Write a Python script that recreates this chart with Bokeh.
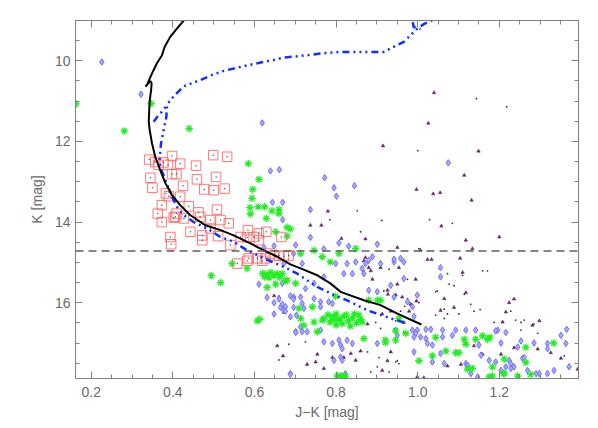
from bokeh.plotting import figure
from bokeh.models import Range1d, LinearAxis, SingleIntervalTicker, Span, NumeralTickFormatter
from bokeh.embed import file_html
from bokeh.resources import INLINE

# ---------------- data ----------------
# black isochrone (J-K, K)
iso_black_x = [1.009, 0.950, 0.909, 0.868, 0.811, 0.786, 0.754, 0.713, 0.688, 0.656, 0.623, 0.590, 0.549,
               0.517, 0.480, 0.443, 0.418, 0.398, 0.382, 0.369, 0.357, 0.349, 0.343, 0.341, 0.343, 0.347,
               0.348, 0.345, 0.340, 0.333, 0.338, 0.343, 0.349, 0.361, 0.3735, 0.380, 0.394, 0.410, 0.4265, 0.432]
iso_black_k = [16.54, 16.27, 16.06, 15.94, 15.73, 15.52, 15.32, 15.15, 15.05, 14.86, 14.70, 14.53, 14.33,
               14.20, 14.08, 13.83, 13.58, 13.33, 13.04, 12.71, 12.38, 12.05, 11.70, 11.51, 11.02, 10.70,
               10.55, 10.50, 10.56, 10.64, 10.57, 10.45, 10.31, 10.06, 9.86, 9.65, 9.40, 9.20, 9.00, 8.90]

# blue isochrone (dash-dot-dot-dot), three pieces
iso_blue_x = [
    [0.966, 0.934, 0.877, 0.827, 0.795, 0.754, 0.705, 0.680, 0.615, 0.582, 0.549, 0.517, 0.484, 0.451,
     0.427, 0.410, 0.394, 0.382, 0.369, 0.368, 0.371, 0.378, 0.384, 0.386, 0.402, 0.427, 0.467, 0.496,
     0.525, 0.566, 0.607, 0.647, 0.672, 0.713, 0.762, 0.811, 0.860, 0.917, 0.942, 0.966, 0.983, 0.999,
     1.015, 1.036, 1.045],
    [0.353, 0.365, 0.377, 0.386],
    [0.988, 0.990, 1.007],
]
iso_blue_k = [
    [16.49, 16.39, 16.19, 15.94, 15.81, 15.61, 15.28, 15.15, 14.86, 14.70, 14.49, 14.37, 14.16, 14.00,
     13.83, 13.62, 13.29, 12.96, 12.63, 12.38, 12.05, 11.70, 11.40, 11.08, 10.88, 10.63, 10.48, 10.35,
     10.25, 10.15, 10.06, 9.98, 9.92, 9.88, 9.82, 9.78, 9.78, 9.78, 9.65, 9.53, 9.36, 9.20,
     9.09, 8.99, 8.92],
    [11.51, 11.35, 11.22, 11.08],
    [9.04, 9.16, 9.21],
]

k_limit = 14.72

red_x = [0.342, 0.357, 0.377, 0.398, 0.418, 0.457, 0.499, 0.533, 0.345, 0.350, 0.398, 0.409, 0.425, 0.459,
         0.506, 0.477, 0.500, 0.527, 0.383, 0.390, 0.418, 0.439, 0.463, 0.508, 0.373, 0.363, 0.409, 0.373,
         0.406, 0.427, 0.467, 0.492, 0.517, 0.537, 0.443, 0.472, 0.472, 0.511, 0.492, 0.394, 0.396, 0.541,
         0.566, 0.584, 0.598, 0.611, 0.629, 0.582, 0.611, 0.558, 0.586, 0.607, 0.639, 0.647, 0.660, 0.672,
         0.684, 0.627, 0.582, 0.619, 0.666, 0.402, 0.365, 0.388]
red_k = [12.45, 12.51, 12.52, 12.36, 12.55, 12.60, 12.34, 12.38, 12.90, 13.15, 12.81, 12.81, 13.10, 12.94,
         12.88, 13.19, 13.21, 13.17, 13.29, 13.36, 13.37, 13.61, 13.76, 13.69, 13.58, 13.79, 13.79, 14.00,
         13.87, 13.91, 13.87, 13.95, 13.95, 14.03, 14.24, 14.33, 14.45, 14.35, 14.16, 14.37, 14.55, 14.57,
         14.37, 14.20, 14.37, 14.28, 14.24, 14.38, 14.45, 15.03, 14.90, 14.90, 14.78, 14.83, 14.83, 14.85,
         14.83, 14.90, 14.96, 14.96, 14.37, 13.89, 12.58, 12.58]

green_x = [0.163, 0.347, 0.281, 0.440, 0.585, 0.611, 0.596, 0.594, 0.589, 0.609, 0.625, 0.643, 0.660, 0.660,
           0.629, 0.688, 0.652, 0.680, 0.590, 0.680, 0.545, 0.582, 0.494, 0.517, 0.607, 0.613, 0.631, 0.652,
           0.676, 0.620, 0.630, 0.640, 0.648, 0.656, 0.625, 0.662, 0.636,
           0.780, 0.790, 0.800, 0.810, 0.820, 0.830, 0.840, 0.850, 0.785, 0.800, 0.815, 0.835, 0.805, 0.825,
           0.795, 0.845, 0.770, 0.860,
           0.713, 0.746, 0.766, 0.864, 0.799, 0.909, 0.868, 0.921, 0.946, 0.971, 0.754, 0.721, 0.811, 0.823,
           0.680, 0.701, 0.668, 0.713, 0.746, 0.766, 0.786, 0.807, 0.848, 0.901, 0.880, 0.709, 0.742, 0.954,
           0.856,
           1.003, 1.036, 1.044, 1.069, 1.093, 1.101, 1.114, 1.118, 1.142, 1.159, 1.171, 1.177, 1.183, 1.212,
           1.210, 1.245, 1.265, 1.265, 1.277, 1.333, 1.122, 0.803, 0.815, 0.921, 0.946, 1.134, 1.183, 1.175,
           1.212]
green_k = [11.07, 11.06, 11.74, 11.68, 12.55, 12.94, 13.19, 13.41, 13.64, 13.62, 13.62, 13.72, 13.69, 13.79,
           13.91, 14.17, 14.24, 14.35, 13.80, 14.13, 15.03, 15.15, 15.33, 15.50, 16.45, 16.41, 15.62, 15.54,
           15.46, 15.27, 15.30, 15.25, 15.33, 15.28, 15.36, 15.37, 15.38,
           16.30, 16.35, 16.28, 16.40, 16.33, 16.45, 16.38, 16.50, 16.48, 16.55, 16.52, 16.58, 16.42, 16.30,
           16.42, 16.28, 16.40, 16.42,
           16.39, 16.48, 16.43, 16.48, 15.84, 15.94, 16.89, 16.93, 16.93, 16.76, 16.72, 16.56, 17.82, 17.82,
           15.44, 15.52, 15.28, 14.78, 14.70, 14.86, 14.99, 14.78, 14.66, 15.94, 15.94, 16.14, 16.10, 16.39,
           16.31,
           17.44, 17.32, 16.86, 17.20, 17.24, 17.24, 16.91, 17.03, 16.91, 16.82, 16.91, 16.86, 17.82, 17.40,
           17.75, 17.82, 17.11, 17.48, 17.78, 17.00, 17.65, 17.82, 17.82, 16.99, 16.70, 17.63, 17.59, 17.84,
           17.76]

blue_x = [0.226, 0.322, 0.619, 0.639, 0.661, 0.644, 0.669, 0.772, 0.795, 0.801, 0.845, 1.075, 0.737, 0.669,
          0.737, 0.701, 0.672, 0.717, 0.696, 0.807, 0.831, 0.901, 0.880, 0.872, 0.864, 0.889, 0.848, 0.799,
          0.827, 0.819, 0.840, 0.868, 0.909, 0.942, 0.958, 0.966, 0.942, 0.934, 0.901, 0.880, 0.770, 0.746,
          0.725, 0.713, 0.696, 0.676, 0.688, 0.721, 0.762, 0.762, 0.713, 0.668, 0.975, 0.987, 0.999,
          0.672, 0.703, 0.717, 0.746, 0.762, 0.782, 0.791, 0.701, 0.717, 0.729, 0.770, 0.791, 0.807, 0.811,
          0.827, 0.815, 0.840, 0.811, 0.815, 0.795, 0.688, 0.823, 0.901, 0.950, 0.946,
          0.966, 0.991, 0.987, 0.999, 1.020, 1.032, 0.995, 0.991, 1.007, 1.020, 1.024, 1.036, 0.991, 1.056,
          1.056, 1.061, 1.061, 1.085, 1.093, 1.118, 1.142, 1.150, 1.056, 1.065, 1.036, 1.118, 1.122, 1.130,
          1.147, 1.155, 1.175, 1.196, 1.204, 1.224, 1.228, 1.236, 1.228, 1.216, 1.245, 1.257, 1.191, 1.204,
          1.285, 1.269, 1.298, 1.318, 1.318, 1.318, 1.351, 1.365, 1.363, 1.334, 1.290, 1.371, 1.191, 1.216,
          1.253, 1.261,
          0.623, 0.648, 0.611, 0.631, 0.648, 0.660, 0.664, 0.676, 0.648, 0.668, 0.688, 0.696, 0.696, 0.701,
          0.688, 0.770, 0.942]
blue_k = [10.03, 10.83, 11.54, 12.73, 12.70, 13.51, 13.51, 12.90, 13.15, 13.36, 13.10, 12.53, 13.69, 13.94,
          14.38, 14.57, 15.03, 15.03, 14.78, 14.52, 14.60, 14.55, 14.95, 15.03, 15.15, 14.86, 14.99, 15.03,
          15.03, 15.28, 15.28, 15.28, 15.03, 14.99, 14.90, 15.40, 15.86, 15.57, 15.73, 15.69, 15.36, 15.52,
          15.65, 15.86, 15.86, 16.10, 16.35, 16.14, 15.98, 16.68, 16.60, 15.52, 15.98, 16.10, 15.81,
          16.19, 16.31, 16.02, 15.90, 16.10, 15.98, 16.02, 16.72, 16.72, 16.72, 16.97, 17.01, 16.93, 17.05,
          16.93, 17.14, 17.01, 17.35, 17.43, 17.43, 17.76, 17.76, 17.01, 16.81, 16.68,
          14.99, 16.34, 16.68, 16.68, 16.66, 16.66, 16.76, 16.85, 16.85, 16.89, 17.01, 17.05, 17.22, 15.13,
          15.36, 16.68, 16.85, 16.81, 16.68, 16.68, 16.68, 17.05, 17.26, 17.51, 17.47, 17.51, 17.55, 17.76,
          17.84, 17.30, 17.43, 16.68, 17.00, 17.43, 17.51, 17.59, 17.63, 17.59, 17.10, 17.38, 17.47, 17.68,
          17.00, 17.68, 17.76, 17.76, 17.14, 17.01, 16.81, 16.66, 17.01, 17.68, 17.76, 17.59, 16.70, 16.74,
          16.95, 17.36,
          14.63, 14.59, 15.54, 15.87, 16.00, 15.91, 16.12, 16.21, 16.28, 16.04, 15.83, 15.91, 16.12, 16.74,
          17.78, 14.67, 14.92]

tri_x = [1.040, 1.026, 0.915, 1.149, 1.114, 0.997, 1.038, 1.055, 1.132, 0.780, 0.737, 0.764, 0.813, 0.872,
         1.058, 1.118, 1.200, 0.950, 1.134, 0.872, 0.868, 0.880, 0.885, 0.889, 0.909, 0.954, 0.995, 0.950,
         0.927, 0.983, 0.934, 0.979, 0.966, 0.913, 0.877, 1.118, 1.110, 1.089, 1.224, 1.236, 1.298,
         0.819, 0.860, 0.926, 0.754, 0.791, 0.729, 1.015, 1.138, 1.159, 1.236, 1.204, 1.326, 1.392, 1.294,
         1.106, 1.073, 0.648, 0.660, 0.668, 0.672, 0.656, 0.670, 1.024, 1.034, 1.104, 1.007, 1.065, 0.997,
         1.056, 1.216, 1.208, 1.281, 1.351, 0.999, 0.750, 0.770, 0.836, 0.848, 0.913, 0.934, 0.926, 0.946,
         0.962]
tri_k = [10.79, 11.55, 12.11, 12.24, 12.84, 13.19, 13.30, 13.27, 13.46, 13.73, 14.08, 14.08, 14.41, 14.42,
         14.10, 14.45, 14.37, 14.63, 14.66, 14.88, 14.96, 15.13, 15.21, 15.42, 15.13, 15.13, 15.42, 15.54,
         15.79, 16.04, 16.21, 16.21, 16.49, 16.28, 16.53, 15.75, 15.25, 16.12, 16.00, 15.91, 16.45,
         17.36, 17.20, 17.44, 17.28, 17.36, 17.53, 17.86, 17.07, 17.28, 17.12, 17.28, 17.24, 17.65, 17.15,
         17.53, 17.57, 15.83, 15.86, 16.04, 16.24, 17.07, 17.32, 14.93, 14.93, 14.90, 14.70, 15.90, 15.96,
         16.19, 16.23, 16.48, 16.56, 17.38, 17.84, 17.47, 17.63, 17.26, 17.43, 17.68, 17.22, 15.69, 15.81,
         15.86]

dot_x = [1.144, 1.218, 1.000, 0.852, 0.785, 0.912, 1.029, 0.860, 1.085, 1.003, 0.868, 0.930, 0.975, 0.917,
         1.003, 0.958, 0.946, 0.897, 1.048, 1.077, 1.089, 1.114, 1.130, 1.159, 1.171, 1.065, 1.073, 1.101,
         1.138, 1.187, 1.228, 1.253, 1.285, 0.905, 0.950, 1.359, 0.684, 0.660, 1.110, 1.073, 1.044, 1.153,
         0.968, 1.065, 1.240, 1.261, 1.044, 1.253, 1.294, 0.725, 0.877, 0.885, 0.901, 0.946, 0.954, 0.930,
         0.975, 0.909, 0.966]
dot_k = [10.94, 11.14, 12.23, 13.72, 13.94, 13.96, 13.94, 14.24, 14.03, 14.66, 15.21, 15.17, 15.42, 15.71,
         16.00, 16.21, 16.45, 16.49, 15.71, 15.54, 15.58, 15.79, 16.04, 15.21, 15.21, 16.16, 16.28, 16.28,
         16.21, 16.49, 16.21, 16.49, 16.53, 17.36, 17.44, 17.32, 17.03, 17.42, 15.32, 15.28, 15.73, 16.17,
         16.09, 16.39, 16.43, 16.43, 16.31, 16.68, 16.76, 16.97, 17.22, 17.72, 17.59, 17.47, 17.51, 17.72,
         15.90, 16.64, 16.72]

x_lo, x_hi = 0.1615, 1.394
k_bright, k_faint = 9.0, 17.88

# ---------------- figure ----------------
FONT = "Liberation Sans"
GRAY = "#6a6a6a"

p = figure(width=596, height=426, frame_width=503, frame_height=358,
           x_range=Range1d(x_lo, x_hi), y_range=Range1d(k_faint, k_bright),
           output_backend="svg", toolbar_location=None,
           min_border_left=75, min_border_right=18, min_border_top=20, min_border_bottom=48)
p.background_fill_color = "white"
p.border_fill_color = "white"
p.outline_line_color = "#808080"
p.outline_line_width = 1
p.xgrid.visible = False
p.ygrid.visible = False

def style_axis(ax, show_labels=True):
    ax.major_tick_in = 7
    ax.major_tick_out = 0
    ax.minor_tick_in = 4
    ax.minor_tick_out = 0
    ax.axis_line_color = "#808080"
    ax.major_tick_line_color = "#808080"
    ax.minor_tick_line_color = "#808080"
    ax.major_label_text_font = FONT
    ax.major_label_text_font_size = "14px"
    ax.major_label_text_color = GRAY
    ax.axis_label_text_font = FONT
    ax.axis_label_text_font_size = "14px"
    ax.axis_label_text_font_style = "normal"
    ax.axis_label_text_color = GRAY
    if not show_labels:
        ax.major_label_text_font_size = "0px"
        ax.major_label_text_alpha = 0

p.xaxis.ticker = SingleIntervalTicker(interval=0.2, num_minor_ticks=4)
p.yaxis.ticker = SingleIntervalTicker(interval=2, num_minor_ticks=4)
p.xaxis.formatter = NumeralTickFormatter(format="0.0")
style_axis(p.xaxis[0])
style_axis(p.yaxis[0])
p.xaxis.axis_label = "J\u2212K [mag]"
p.yaxis.axis_label = "K [mag]"
p.xaxis.major_label_standoff = 8
p.xaxis.axis_label_standoff = 4
p.yaxis.major_label_standoff = 5
p.yaxis.axis_label_standoff = 7

top_ax = LinearAxis(ticker=SingleIntervalTicker(interval=0.2, num_minor_ticks=4))
style_axis(top_ax, False)
right_ax = LinearAxis(ticker=SingleIntervalTicker(interval=2, num_minor_ticks=4))
style_axis(right_ax, False)
p.add_layout(top_ax, "above")
p.add_layout(right_ax, "right")

# ---------------- scatter ----------------
p.scatter(dot_x, dot_k, marker="circle", size=1.8, color="#333333", line_width=0)
p.scatter(tri_x, tri_k, marker="triangle", size=3.5, fill_color="#6a2a70", line_color="#5a2060", line_width=0.5)
p.scatter(blue_x, blue_k, marker="diamond", size=6.5, fill_color="#a8a8ff", line_color="#7070f0", line_width=1)
p.scatter(green_x, green_k, marker="asterisk", size=7.5, line_color="#22ee22", line_width=1.3)
p.scatter(red_x, red_k, marker="square", size=9.5, fill_alpha=0, line_color="#ff6060", line_width=1, line_alpha=0.85)
p.scatter(red_x, red_k, marker="circle", size=1.5, color="#555555", line_width=0)

# ---------------- lines ----------------
p.add_layout(Span(location=k_limit, dimension="width", line_color="#606060",
                  line_width=1.5, line_dash="8 5"))
p.multi_line(iso_blue_x, iso_blue_k, line_color="#1030ff", line_width=2.5,
             line_dash="7 4 2 4 2 4 2 4")
p.line(iso_black_x, iso_black_k, line_color="black", line_width=2)

open("out.html", "w").write(file_html(p, INLINE))
